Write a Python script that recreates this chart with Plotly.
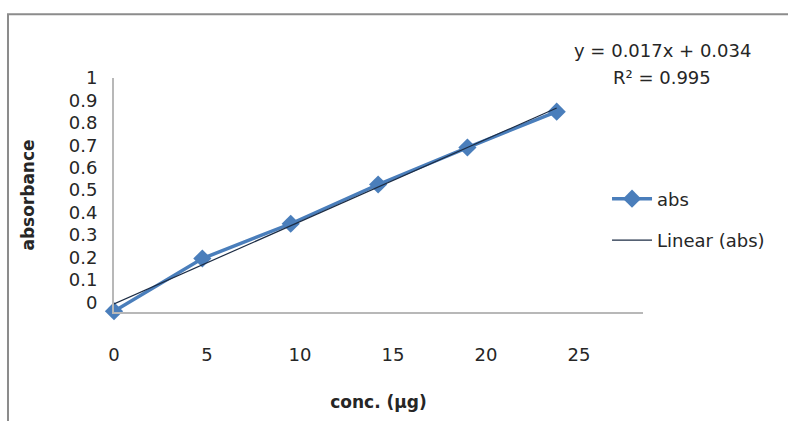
import numpy as np
import plotly.graph_objects as go

# ---- data ----
conc = [0, 4.75, 9.5, 14.2, 19.0, 23.8]
absorb = [-0.04, 0.195, 0.35, 0.525, 0.69, 0.85]
x_ticks = [0, 5, 10, 15, 20, 25]
y_ticks = [0, 0.1, 0.2, 0.3, 0.4, 0.5, 0.6, 0.7, 0.8, 0.9, 1]
y_ticklabels = ["0", "0.1", "0.2", "0.3", "0.4", "0.5", "0.6", "0.7", "0.8", "0.9", "1"]
eq_text = "y = 0.017x + 0.034"
r2_text = "R² = 0.995"
series_name = "abs"
trend_name = "Linear (abs)"
x_title = "conc. (μg)"
y_title = "absorbance"

# linear trendline fitted from the data
slope, intercept = np.polyfit(conc, absorb, 1)
trend_x = [min(conc), max(conc)]
trend_y = [slope * v + intercept for v in trend_x]

FONT = "DejaVu Sans"
BLUE = "#4a7ebb"
TXT = "#262626"

fig = go.Figure()
fig.add_trace(go.Scatter(
    x=conc, y=absorb, name=series_name, mode="lines+markers",
    line=dict(color=BLUE, width=3.5),
    marker=dict(symbol="diamond", size=14, color=BLUE),
    cliponaxis=False, legendgroup="a",
))
fig.add_trace(go.Scatter(
    x=trend_x, y=trend_y, name=trend_name, mode="lines",
    line=dict(color="#1c2c44", width=1.2),
    cliponaxis=False, legendgroup="b",
))

fig.update_layout(
    width=788, height=421,
    margin=dict(l=114, r=145, t=78, b=103),
    paper_bgcolor="white", plot_bgcolor="white",
    font=dict(family=FONT, color=TXT),
    showlegend=True,
    legend=dict(
        x=0.932, xanchor="left", y=0.562, yanchor="top",
        font=dict(family=FONT, size=18, color=TXT),
        bgcolor="rgba(0,0,0,0)", tracegroupgap=15,
        itemwidth=40,
    ),
    xaxis=dict(
        range=[0, 28.44], tickvals=x_ticks, ticktext=[str(v) for v in x_ticks],
        showgrid=False, zeroline=False, showline=True,
        linecolor="#b8b8b8", linewidth=2, ticks="",
        ticklabelstandoff=25,
        tickfont=dict(family=FONT, size=18, color=TXT),
        title=dict(text="<b>" + x_title + "</b>", font=dict(family=FONT, size=17, color=TXT), standoff=33),
    ),
    yaxis=dict(
        range=[-0.0435, 1.0], tickvals=y_ticks, ticktext=y_ticklabels,
        showgrid=False, zeroline=False, showline=True,
        linecolor="#b8b8b8", linewidth=2, ticks="",
        ticklabelstandoff=11,
        tickfont=dict(family=FONT, size=18, color=TXT),
        title=dict(text="<b>" + y_title + "</b>", font=dict(family=FONT, size=17, color=TXT), standoff=30),
    ),
    shapes=[dict(
        type="rect", xref="paper", yref="paper",
        x0=-0.2004, x1=1.6, y0=-0.6, y1=1.2729,
        line=dict(color="#8c8c8c", width=2), fillcolor="rgba(0,0,0,0)", layer="below",
    )],
    annotations=[
        dict(text=eq_text, xref="paper", yref="paper", x=1.036, y=1.117,
             xanchor="center", yanchor="middle", showarrow=False,
             font=dict(family=FONT, size=18, color=TXT)),
        dict(text=r2_text, xref="paper", yref="paper", x=1.036, y=1.004,
             xanchor="center", yanchor="middle", showarrow=False,
             font=dict(family=FONT, size=18, color=TXT)),
    ],
)

fig.write_html("out.html", config={"displayModeBar": False},
               post_script="document.body.style.margin='0';")
